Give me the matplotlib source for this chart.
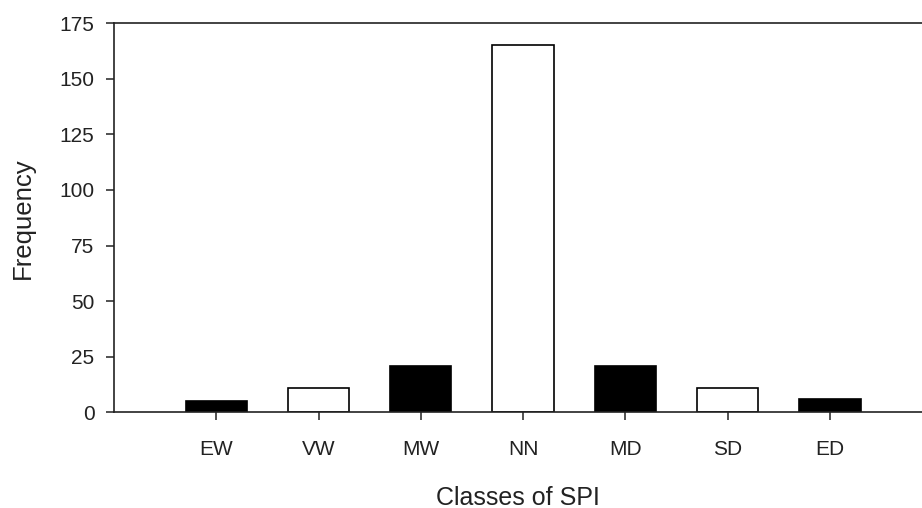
import matplotlib
matplotlib.use('Agg')
import matplotlib.pyplot as plt

# SPI class frequencies
classes = ['EW', 'VW', 'MW', 'NN', 'MD', 'SD', 'ED']
frequency = [5, 11, 21, 165, 21, 11, 6]
fill = ['black', 'white', 'black', 'white', 'black', 'white', 'black']
y_ticks = [0, 25, 50, 75, 100, 125, 150, 175]

plt.rcParams['font.family'] = ['Liberation Sans', 'DejaVu Sans']

fig = plt.figure(figsize=(9.22, 5.08), dpi=100)
ax = fig.add_axes([0.1236, 0.188, 0.8764, 0.7667])

x = range(len(classes))
ax.bar(x, frequency, width=0.6, color=fill, edgecolor='black', linewidth=1.2)

ax.set_xlim(-1, 6.9)
ax.set_ylim(0, 175)
ax.set_xticks(list(x))
ax.set_xticklabels(classes)
ax.set_yticks(y_ticks)

ax.spines['right'].set_visible(False)
for s in ['left', 'bottom', 'top']:
    ax.spines[s].set_linewidth(1.2)
    ax.spines[s].set_color('#222222')

ax.tick_params(axis='x', direction='out', length=6, width=1.1, pad=14,
               labelsize=15, colors='#222222')
ax.tick_params(axis='y', direction='out', length=6, width=1.1, pad=8,
               labelsize=15, colors='#222222')

ax.set_xlabel('Classes of SPI', fontsize=18, color='#222222', labelpad=19)
ax.set_ylabel('Frequency', fontsize=18.5, color='#222222', labelpad=18)

fig.savefig('out.png', dpi=100)
